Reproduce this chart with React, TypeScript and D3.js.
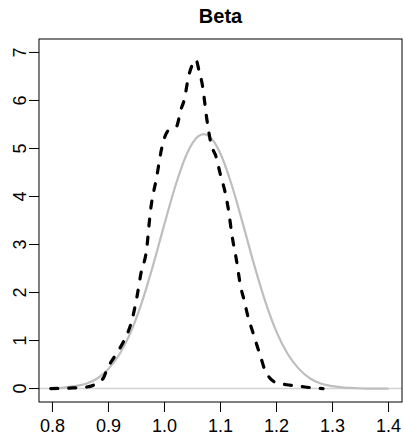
import React from "react";
import * as d3 from "d3";

// gray curve (normal fit)
const fitX = [0.8, 0.82, 0.84, 0.86, 0.88, 0.9, 0.92, 0.94, 0.96, 0.98, 1.0, 1.02, 1.04, 1.06, 1.07, 1.08, 1.1, 1.12, 1.14, 1.16, 1.18, 1.2, 1.22, 1.24, 1.26, 1.28, 1.3, 1.32, 1.34, 1.36, 1.38, 1.4];
const fitY = [0.01, 0.02, 0.05, 0.1, 0.21, 0.41, 0.72, 1.18, 1.81, 2.58, 3.43, 4.24, 4.89, 5.25, 5.3, 5.25, 4.89, 4.24, 3.43, 2.58, 1.81, 1.18, 0.72, 0.41, 0.21, 0.1, 0.05, 0.02, 0.01, 0.0, 0.0, 0.0];

// dashed curve (density estimate)
const densX = [0.797, 0.83, 0.86, 0.875, 0.891, 0.897, 0.915, 0.927, 0.942, 0.951, 0.958, 0.968, 0.975, 0.986, 0.995, 1.005, 1.015, 1.022, 1.029, 1.035, 1.043, 1.05, 1.056, 1.062, 1.068, 1.075, 1.083, 1.092, 1.1, 1.108, 1.115, 1.12, 1.129, 1.136, 1.142, 1.149, 1.157, 1.164, 1.172, 1.179, 1.188, 1.2, 1.218, 1.24, 1.26, 1.283];
const densY = [0.0, 0.01, 0.03, 0.08, 0.22, 0.39, 0.74, 0.98, 1.43, 1.92, 2.4, 2.89, 3.7, 4.4, 5.0, 5.35, 5.42, 5.47, 5.8, 6.0, 6.5, 6.75, 6.85, 6.6, 6.3, 5.66, 5.1, 4.83, 4.45, 4.1, 3.66, 3.23, 2.64, 2.12, 1.85, 1.5, 1.2, 0.94, 0.65, 0.39, 0.22, 0.12, 0.08, 0.05, 0.02, 0.0];

const xTicks = [0.8, 0.9, 1.0, 1.1, 1.2, 1.3, 1.4];
const yTicks = [0, 1, 2, 3, 4, 5, 6, 7];
const title = "Beta";

const W = 403;
const H = 434;
const box = { left: 39, right: 402, top: 39, bottom: 402 };
const font = "'Liberation Sans', Arial, Helvetica, sans-serif";

export default function App() {
  const x = d3.scaleLinear().domain([0.776, 1.424]).range([box.left, box.right]);
  const y = d3.scaleLinear().domain([-0.28, 7.28]).range([box.bottom, box.top]);

  const line = d3
    .line<[number, number]>()
    .x((d) => x(d[0]))
    .y((d) => y(d[1]))
    .curve(d3.curveMonotoneX);

  const fitPts = fitX.map((v, i) => [v, fitY[i]] as [number, number]);
  const densPts = densX.map((v, i) => [v, densY[i]] as [number, number]);

  return (
    <svg width={W} height={H} style={{ position: "absolute", left: 0, top: 0, background: "#fff" }}>
      <text x={(box.left + box.right) / 2} y={23} textAnchor="middle" fontFamily={font} fontWeight="bold" fontSize={20}>
        {title}
      </text>

      <line x1={box.left} x2={box.right} y1={y(0)} y2={y(0)} stroke="#d3d3d3" strokeWidth={1.5} />
      <path d={line(fitPts) || ""} fill="none" stroke="#bebebe" strokeWidth={2.2} />
      <path
        d={line(densPts) || ""}
        fill="none"
        stroke="#000"
        strokeWidth={3.2}
        strokeDasharray="7,11"
        strokeLinecap="round"
      />

      <rect
        x={box.left}
        y={box.top}
        width={box.right - box.left}
        height={box.bottom - box.top}
        fill="none"
        stroke="#000"
        strokeWidth={1}
      />

      {xTicks.map((t) => (
        <g key={"x" + t}>
          <line x1={x(t)} x2={x(t)} y1={box.bottom} y2={box.bottom + 10} stroke="#000" />
          <text x={x(t)} y={431.5} textAnchor="middle" fontFamily={font} fontSize={18}>
            {t.toFixed(1)}
          </text>
        </g>
      ))}

      {yTicks.map((t) => (
        <g key={"y" + t}>
          <line x1={box.left - 10} x2={box.left} y1={y(t)} y2={y(t)} stroke="#000" />
          <text
            transform={`translate(26,${y(t)}) rotate(-90)`}
            textAnchor="middle"
            fontFamily={font}
            fontSize={18}
          >
            {t}
          </text>
        </g>
      ))}
    </svg>
  );
}
